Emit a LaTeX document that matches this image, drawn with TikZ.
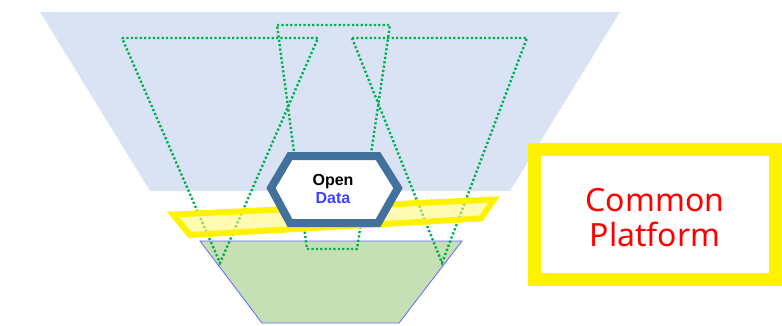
\documentclass[tikz,border=0pt]{standalone}
\usepackage{fontspec}
\setmainfont{Noto Sans}
\newfontfamily\hexfont{Liberation Sans}
\begin{document}
\begin{tikzpicture}[x=1pt,y=-1pt,
  lbl/.style={font=\hexfont\fontsize{16}{17}\selectfont\bfseries, inner sep=0pt}]
\definecolor{topblue}{HTML}{DAE3F3}
\definecolor{basegreen}{HTML}{C5E0B4}
\definecolor{dotgreen}{HTML}{00B050}
\definecolor{hexblue}{HTML}{41719C}
\definecolor{datablue}{HTML}{4040FF}
\useasboundingbox (0,0) rectangle (782,325);
% top funnel
\fill[topblue] (40,12) -- (620,12) -- (510,191) -- (150,191) -- cycle;
% base
\draw[fill=basegreen, draw=blue!60, line width=0.8pt] (200,241) -- (462,241) -- (399,323) -- (262,323) -- cycle;
% dotted triangles
\begin{scope}[every path/.style={draw=dotgreen, line width=2.4pt, dash pattern=on 2.2pt off 2.2pt, line cap=butt}]
\draw (122,38) -- (318,38) -- (220,263) -- cycle;
\draw (352,38) -- (527,38) -- (442,263) -- cycle;
\draw (277,25) -- (390,25) -- (357,249) -- (307,249) -- cycle;
\end{scope}
% yellow band
\draw[draw=yellow, line width=6pt, fill=yellow!55, fill opacity=0.55, line join=miter] (173,214.5) -- (494,199.5) -- (481,218.5) -- (190,235) -- cycle;
% hexagon
\draw[draw=hexblue, line width=8pt, fill=white, line join=miter] (271,188) -- (290,156) -- (378,156) -- (398,188) -- (378,223) -- (290,223) -- cycle;
\node[lbl, text=black] (open) at (333,182) {Open};
\node[lbl, text=datablue] (data) at (333,198) {Data};
% common platform box
\draw[draw=yellow, line width=13pt, fill=white] (534,149.5) rectangle (775.5,279.5);
\node[font=\fontsize{32}{35}\selectfont, text=red, align=center, inner sep=0pt] (cp) at (655,218) {Common\\Platform};
\end{tikzpicture}
\end{document}
